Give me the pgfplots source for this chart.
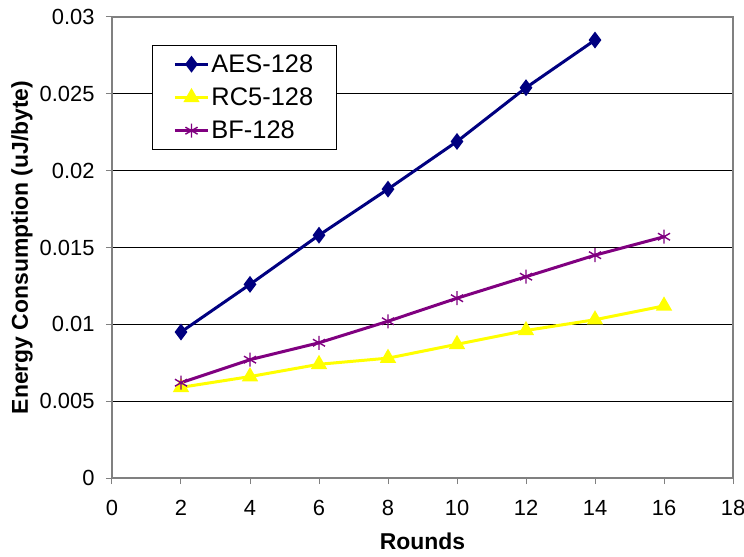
\documentclass[border=0pt]{standalone}
\usepackage{fontspec}
\setmainfont{Liberation Sans}
\usepackage{pgfplots}
\pgfplotsset{compat=1.18}

\definecolor{aesblue}{RGB}{0,0,128}
\definecolor{rcyellow}{RGB}{255,255,0}
\definecolor{bfpurple}{RGB}{128,0,128}
\definecolor{axgray}{RGB}{128,128,128}

\begin{document}
\begin{tikzpicture}
\begin{axis}[
  scale only axis,
  width=621bp, height=461bp,
  xmin=0, xmax=18, ymin=0, ymax=0.03,
  scaled y ticks=false,
  xtick={0,2,4,6,8,10,12,14,16,18},
  xticklabels={0,2,4,6,8,10,12,14,16,18},
  ytick={0,0.005,0.01,0.015,0.02,0.025,0.03},
  yticklabels={0,0.005,0.01,0.015,0.02,0.025,0.03},
  ticklabel style={font=\fontsize{22}{26}\selectfont},
  xticklabel style={yshift=-13bp},
  yticklabel style={xshift=-8bp},
  tick align=outside,
  major tick length=6bp,
  tick style={axgray, line width=1bp},
  xtick pos=bottom, ytick pos=left,
  axis line style={axgray, line width=1.5bp},
  ymajorgrids,
  major grid style={black, line width=0.8bp},
  xlabel={Rounds},
  ylabel={Energy Consumption (uJ/byte)},
  label style={font=\fontsize{23}{27}\selectfont\bfseries},
  xlabel style={at={(axis description cs:0.5,0)}, anchor=center, yshift=-63bp},
  ylabel style={at={(axis description cs:-0.145,0.5)}, anchor=center},
  legend cell align=left,
  legend image code/.code={%
    \draw[#1, mark repeat=2, mark phase=2]
      plot coordinates {(0bp,0bp) (16.5bp,0bp) (33bp,0bp)};},
  legend style={
    at={(axis description cs:0.0644,0.939)}, anchor=north west,
    draw=black, line width=1bp,
    font=\fontsize{25.5}{29}\selectfont,
    inner xsep=21bp, inner ysep=7bp,
    row sep=10bp,
  },
]
\addplot[aesblue, line width=3bp, mark=diamond*, mark size=6bp,
  mark options={solid, fill=aesblue}]
  coordinates {(2,0.0095) (4,0.0126) (6,0.0158) (8,0.0188) (10,0.0219) (12,0.0254) (14,0.0285)};
\addlegendentry{AES-128}

\addplot[rcyellow, line width=3bp, mark=triangle*, mark size=6.5bp,
  mark options={solid, fill=rcyellow}]
  coordinates {(2,0.0059) (4,0.0066) (6,0.0074) (8,0.0078) (10,0.0087) (12,0.0096) (14,0.0103) (16,0.0112)};
\addlegendentry{RC5-128}

\addplot[bfpurple, line width=3bp, mark=asterisk, mark size=7bp,
  mark options={solid, line width=1.4bp}]
  coordinates {(2,0.0062) (4,0.0077) (6,0.0088) (8,0.0102) (10,0.0117) (12,0.0131) (14,0.0145) (16,0.0157)};
\addlegendentry{BF-128}
\end{axis}
\pgfresetboundingbox
\path[use as bounding box] (-112bp,-79bp) rectangle (632bp,478bp);
\end{tikzpicture}
\end{document}
